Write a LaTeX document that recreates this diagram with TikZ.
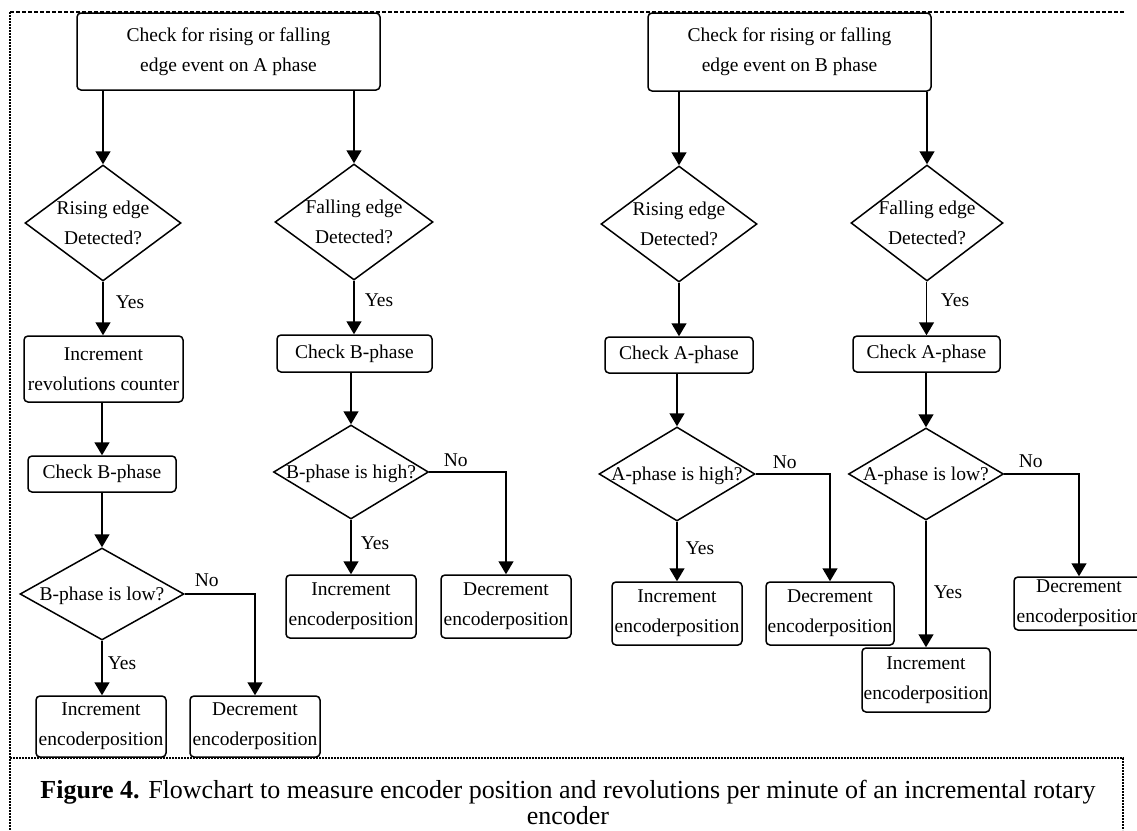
\documentclass[tikz,border=0pt]{standalone}
\usepackage{fontspec}
\setmainfont{Liberation Serif}
\usetikzlibrary{shapes.geometric,arrows.meta,calc,positioning}
\tikzset{flow box/.style 2 args=
{draw,rounded corners=4pt,align=center,inner sep=0pt,minimum width=#1,minimum height=#2}}
\tikzset{flow diamond/.style 2 args=
{draw,diamond,inner sep=0pt,minimum width=#1,minimum height=#2}}
\newcommand{\dtext}[1]{\makebox[0pt]{\begin{tabular}{@{}c@{}}#1\end{tabular}}}

\begin{document}
\begin{tikzpicture}[x=1pt,y=-1pt,line width=1.5pt,
                    font=\fontsize{19.5}{30}\selectfont,
                    arr/.style={-{Triangle[width=15pt,length=13pt]}},
                    flow label/.style={anchor=west,inner sep=0pt}]
\clip (0,0) rectangle (1137,830);

% frame
\draw[line width=1.2pt,dash pattern=on 4pt off 2pt] (10,12) -- (1125,12);
\draw[line width=1.6pt,dash pattern=on 2pt off 1pt] (10,12) -- (10,830);
\draw[line width=1.6pt,dash pattern=on 2pt off 1pt] (10,758) -- (1123,758) -- (1123,830);

% A phase
\node[flow box={303pt}{77pt}] (TopA) at (228.5,51.5) {Check for rising or falling\\edge event on A phase};
\node[flow diamond={156pt}{116pt}] (RiseA) at (103,223) {\dtext{Rising edge\\Detected?}};
\node[flow box={159pt}{66pt}] (RevA) at (103.5,369) {Increment\\revolutions counter};
\node[flow box={148pt}{36pt}] (CheckBa) at (102,474) {Check B-phase};
\node[flow diamond={164pt}{92pt}] (LowB) at (102,594) {\dtext{B-phase is low?}};
\node[flow box={130pt}{61pt}] (IncA) at (101,726.5) {Increment\\encoderposition};
\node[flow box={130pt}{61pt}] (DecA) at (255,726.5) {Decrement\\encoderposition};

\node[flow diamond={158pt}{116pt}] (FallA) at (354,222) {\dtext{Falling edge\\Detected?}};
\node[flow box={155pt}{37pt}] (CheckBb) at (354.5,353.5) {Check B-phase};
\node[flow diamond={155pt}{94pt}] (HighB) at (351,472) {\dtext{B-phase is high?}};
\node[flow box={130pt}{63pt}] (IncAb) at (351,606.5) {Increment\\encoderposition};
\node[flow box={130pt}{63pt}] (DecAb) at (506,606.5) {Decrement\\encoderposition};

% B phase
\node[flow box={283pt}{78pt}] (TopB) at (789.5,52) {Check for rising or falling\\edge event on B phase};
\node[flow diamond={156pt}{116pt}] (RiseB) at (679,224) {\dtext{Rising edge\\Detected?}};
\node[flow box={148pt}{36pt}] (CheckAa) at (679,355) {Check A-phase};
\node[flow diamond={156pt}{94pt}] (HighA) at (677,474) {\dtext{A-phase is high?}};
\node[flow box={130pt}{63pt}] (IncB) at (677,613.5) {Increment\\encoderposition};
\node[flow box={128pt}{63pt}] (DecB) at (830,613.5) {Decrement\\encoderposition};

\node[flow diamond={152pt}{116pt}] (FallB) at (927,223) {\dtext{Falling edge\\Detected?}};
\node[flow box={147pt}{36pt}] (CheckAb) at (926.5,354) {Check A-phase};
\node[flow diamond={155pt}{92pt}] (LowA) at (926,474) {\dtext{A-phase is low?}};
\node[flow box={128pt}{64pt}] (IncBb) at (926,680) {Increment\\encoderposition};
\node[flow box={130pt}{53pt}] (DecBb) at (1079,603.5) {Decrement\\encoderposition};

% connectors
\draw[arr] (TopA.south -| RiseA) -- (RiseA.north);
\draw[arr] (TopA.south -| FallA) -- (FallA.north);
\draw[arr] (TopB.south -| RiseB) -- (RiseB.north);
\draw[arr] (TopB.south -| FallB) -- (FallB.north);

\draw[arr] (RiseA.south) -- (RiseA.south |- RevA.north);
\draw[arr] (RevA.south -| CheckBa) -- (CheckBa.north);
\draw[arr] (CheckBa.south) -- (LowB.north);
\draw[arr] (LowB.south) -- (LowB.south |- IncA.north);
\draw[arr] (LowB.east) -- (LowB.east -| DecA) -- (DecA.north);

\draw[arr] (FallA.south) -- (FallA.south |- CheckBb.north);
\draw[arr] (CheckBb.south -| HighB) -- (HighB.north);
\draw[arr] (HighB.south) -- (IncAb.north);
\draw[arr] (HighB.east) -- (HighB.east -| DecAb) -- (DecAb.north);

\draw[arr] (RiseB.south) -- (CheckAa.north);
\draw[arr] (CheckAa.south -| HighA) -- (HighA.north);
\draw[arr] (HighA.south) -- (IncB.north);
\draw[arr] (HighA.east) -- (HighA.east -| DecB) -- (DecB.north);

\draw[arr] (FallB.south -| CheckAb) -- (CheckAb.north);
\draw[arr] (CheckAb.south -| LowA) -- (LowA.north);
\draw[arr] (LowA.south) -- (IncBb.north);
\draw[arr] (LowA.east) -- (LowA.east -| DecBb) -- (DecBb.north);

% labels
\foreach \n/\x/\y in {YesA/115/302, YesB/107/663, YesC/364/300, YesD/360/543,
                      YesE/685/548, YesF/940/300, YesG/933/592}
   \node[flow label] (\n) at (\x,\y) {Yes};
\foreach \n/\x/\y in {NoA/194/580, NoB/443/460, NoC/772/462, NoD/1018/461}
   \node[flow label] (\n) at (\x,\y) {No};

% caption
\node[align=center,font=\fontsize{26}{26}\selectfont] (Caption) at (568,802)
   {\textbf{Figure 4.} Flowchart to measure encoder position and revolutions per minute of an incremental rotary\\encoder};
\end{tikzpicture}
\end{document}
